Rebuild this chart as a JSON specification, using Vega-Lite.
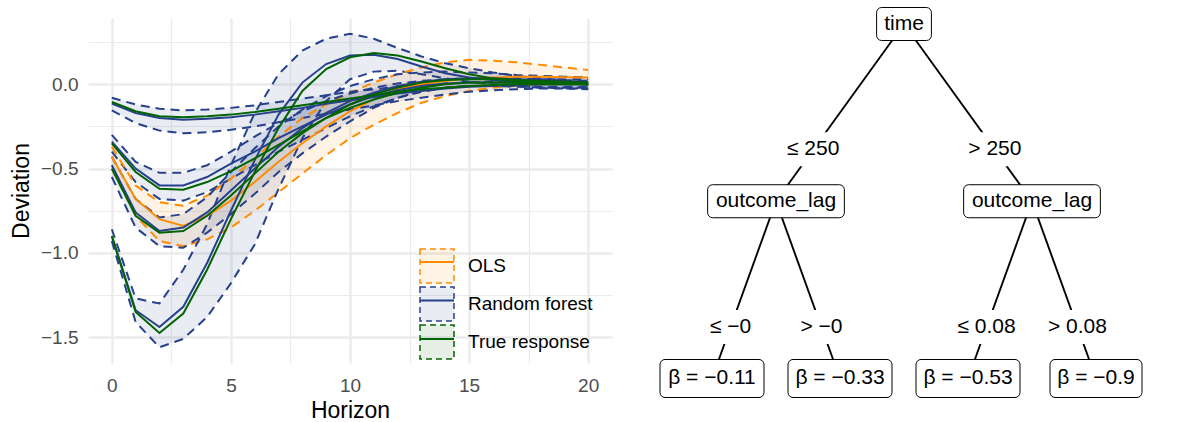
{
"$schema": "https://vega.github.io/schema/vega-lite/v6.json",
"padding": {"left": 10, "top": 6, "right": 0, "bottom": 0},
"background": "white",
"bounds": "flush",
"spacing": 8,
"config": {
  "view": {"stroke": null},
  "font": "Liberation Sans",
  "axis": {"labelFont": "Liberation Sans", "titleFont": "Liberation Sans"},
  "legend": {"labelFont": "Liberation Sans"},
  "text": {"font": "Liberation Sans"}
},
"datasets": {
"irf": [
{"h":0,"g":"O","m":"OLS","y":-0.43,"lo":-0.50,"hi":-0.37},
{"h":1,"g":"O","m":"OLS","y":-0.68,"lo":-0.78,"hi":-0.60},
{"h":2,"g":"O","m":"OLS","y":-0.80,"lo":-0.93,"hi":-0.70},
{"h":3,"g":"O","m":"OLS","y":-0.84,"lo":-0.96,"hi":-0.72},
{"h":4,"g":"O","m":"OLS","y":-0.78,"lo":-0.92,"hi":-0.66},
{"h":5,"g":"O","m":"OLS","y":-0.69,"lo":-0.85,"hi":-0.56},
{"h":6,"g":"O","m":"OLS","y":-0.58,"lo":-0.75,"hi":-0.44},
{"h":7,"g":"O","m":"OLS","y":-0.46,"lo":-0.64,"hi":-0.31},
{"h":8,"g":"O","m":"OLS","y":-0.35,"lo":-0.53,"hi":-0.20},
{"h":9,"g":"O","m":"OLS","y":-0.25,"lo":-0.42,"hi":-0.12},
{"h":10,"g":"O","m":"OLS","y":-0.16,"lo":-0.32,"hi":-0.05},
{"h":11,"g":"O","m":"OLS","y":-0.09,"lo":-0.24,"hi":0.01},
{"h":12,"g":"O","m":"OLS","y":-0.03,"lo":-0.17,"hi":0.06},
{"h":13,"g":"O","m":"OLS","y":0.00,"lo":-0.11,"hi":0.10},
{"h":14,"g":"O","m":"OLS","y":0.02,"lo":-0.07,"hi":0.13},
{"h":15,"g":"O","m":"OLS","y":0.035,"lo":-0.04,"hi":0.145},
{"h":16,"g":"O","m":"OLS","y":0.04,"lo":-0.02,"hi":0.14},
{"h":17,"g":"O","m":"OLS","y":0.045,"lo":-0.01,"hi":0.13},
{"h":18,"g":"O","m":"OLS","y":0.045,"lo":0.0,"hi":0.115},
{"h":19,"g":"O","m":"OLS","y":0.042,"lo":0.0,"hi":0.10},
{"h":20,"g":"O","m":"OLS","y":0.04,"lo":0.0,"hi":0.085},

{"h":0,"g":"A","m":"Random forest","y":-0.115,"lo":-0.155,"hi":-0.08},
{"h":1,"g":"A","m":"Random forest","y":-0.17,"lo":-0.23,"hi":-0.12},
{"h":2,"g":"A","m":"Random forest","y":-0.20,"lo":-0.275,"hi":-0.145},
{"h":3,"g":"A","m":"Random forest","y":-0.21,"lo":-0.29,"hi":-0.155},
{"h":4,"g":"A","m":"Random forest","y":-0.205,"lo":-0.285,"hi":-0.15},
{"h":5,"g":"A","m":"Random forest","y":-0.195,"lo":-0.27,"hi":-0.14},
{"h":6,"g":"A","m":"Random forest","y":-0.18,"lo":-0.25,"hi":-0.125},
{"h":7,"g":"A","m":"Random forest","y":-0.16,"lo":-0.225,"hi":-0.105},
{"h":8,"g":"A","m":"Random forest","y":-0.14,"lo":-0.20,"hi":-0.085},
{"h":9,"g":"A","m":"Random forest","y":-0.115,"lo":-0.175,"hi":-0.065},
{"h":10,"g":"A","m":"Random forest","y":-0.095,"lo":-0.15,"hi":-0.045},
{"h":11,"g":"A","m":"Random forest","y":-0.075,"lo":-0.125,"hi":-0.03},
{"h":12,"g":"A","m":"Random forest","y":-0.055,"lo":-0.10,"hi":-0.015},
{"h":13,"g":"A","m":"Random forest","y":-0.04,"lo":-0.08,"hi":-0.005},
{"h":14,"g":"A","m":"Random forest","y":-0.025,"lo":-0.06,"hi":0.005},
{"h":15,"g":"A","m":"Random forest","y":-0.015,"lo":-0.045,"hi":0.01},
{"h":16,"g":"A","m":"Random forest","y":-0.01,"lo":-0.035,"hi":0.015},
{"h":17,"g":"A","m":"Random forest","y":-0.005,"lo":-0.03,"hi":0.015},
{"h":18,"g":"A","m":"Random forest","y":0.0,"lo":-0.025,"hi":0.015},
{"h":19,"g":"A","m":"Random forest","y":0.0,"lo":-0.025,"hi":0.015},
{"h":20,"g":"A","m":"Random forest","y":0.0,"lo":-0.025,"hi":0.015},

{"h":0,"g":"B","m":"Random forest","y":-0.34,"lo":-0.40,"hi":-0.30},
{"h":1,"g":"B","m":"Random forest","y":-0.50,"lo":-0.58,"hi":-0.46},
{"h":2,"g":"B","m":"Random forest","y":-0.60,"lo":-0.68,"hi":-0.525},
{"h":3,"g":"B","m":"Random forest","y":-0.60,"lo":-0.69,"hi":-0.525},
{"h":4,"g":"B","m":"Random forest","y":-0.55,"lo":-0.64,"hi":-0.48},
{"h":5,"g":"B","m":"Random forest","y":-0.47,"lo":-0.56,"hi":-0.40},
{"h":6,"g":"B","m":"Random forest","y":-0.40,"lo":-0.48,"hi":-0.31},
{"h":7,"g":"B","m":"Random forest","y":-0.32,"lo":-0.40,"hi":-0.23},
{"h":8,"g":"B","m":"Random forest","y":-0.25,"lo":-0.33,"hi":-0.16},
{"h":9,"g":"B","m":"Random forest","y":-0.18,"lo":-0.26,"hi":-0.10},
{"h":10,"g":"B","m":"Random forest","y":-0.12,"lo":-0.19,"hi":-0.055},
{"h":11,"g":"B","m":"Random forest","y":-0.07,"lo":-0.13,"hi":-0.02},
{"h":12,"g":"B","m":"Random forest","y":-0.035,"lo":-0.08,"hi":0.005},
{"h":13,"g":"B","m":"Random forest","y":-0.01,"lo":-0.045,"hi":0.02},
{"h":14,"g":"B","m":"Random forest","y":0.005,"lo":-0.02,"hi":0.03},
{"h":15,"g":"B","m":"Random forest","y":0.01,"lo":-0.01,"hi":0.035},
{"h":16,"g":"B","m":"Random forest","y":0.01,"lo":-0.01,"hi":0.035},
{"h":17,"g":"B","m":"Random forest","y":0.01,"lo":-0.015,"hi":0.035},
{"h":18,"g":"B","m":"Random forest","y":0.005,"lo":-0.02,"hi":0.03},
{"h":19,"g":"B","m":"Random forest","y":0.005,"lo":-0.02,"hi":0.03},
{"h":20,"g":"B","m":"Random forest","y":0.0,"lo":-0.02,"hi":0.03},

{"h":0,"g":"C","m":"Random forest","y":-0.48,"lo":-0.55,"hi":-0.43},
{"h":1,"g":"C","m":"Random forest","y":-0.76,"lo":-0.85,"hi":-0.68},
{"h":2,"g":"C","m":"Random forest","y":-0.87,"lo":-0.96,"hi":-0.79},
{"h":3,"g":"C","m":"Random forest","y":-0.85,"lo":-0.97,"hi":-0.77},
{"h":4,"g":"C","m":"Random forest","y":-0.76,"lo":-0.88,"hi":-0.67},
{"h":5,"g":"C","m":"Random forest","y":-0.63,"lo":-0.77,"hi":-0.52},
{"h":6,"g":"C","m":"Random forest","y":-0.50,"lo":-0.65,"hi":-0.38},
{"h":7,"g":"C","m":"Random forest","y":-0.37,"lo":-0.52,"hi":-0.25},
{"h":8,"g":"C","m":"Random forest","y":-0.26,"lo":-0.41,"hi":-0.15},
{"h":9,"g":"C","m":"Random forest","y":-0.17,"lo":-0.31,"hi":-0.07},
{"h":10,"g":"C","m":"Random forest","y":-0.10,"lo":-0.22,"hi":-0.01},
{"h":11,"g":"C","m":"Random forest","y":-0.05,"lo":-0.14,"hi":0.03},
{"h":12,"g":"C","m":"Random forest","y":-0.01,"lo":-0.08,"hi":0.06},
{"h":13,"g":"C","m":"Random forest","y":0.015,"lo":-0.04,"hi":0.07},
{"h":14,"g":"C","m":"Random forest","y":0.03,"lo":-0.02,"hi":0.075},
{"h":15,"g":"C","m":"Random forest","y":0.035,"lo":-0.01,"hi":0.07},
{"h":16,"g":"C","m":"Random forest","y":0.035,"lo":-0.01,"hi":0.065},
{"h":17,"g":"C","m":"Random forest","y":0.03,"lo":-0.01,"hi":0.055},
{"h":18,"g":"C","m":"Random forest","y":0.025,"lo":-0.015,"hi":0.05},
{"h":19,"g":"C","m":"Random forest","y":0.02,"lo":-0.015,"hi":0.045},
{"h":20,"g":"C","m":"Random forest","y":0.015,"lo":-0.015,"hi":0.04},

{"h":0,"g":"D","m":"Random forest","y":-0.90,"lo":-0.93,"hi":-0.86},
{"h":1,"g":"D","m":"Random forest","y":-1.34,"lo":-1.41,"hi":-1.27},
{"h":2,"g":"D","m":"Random forest","y":-1.44,"lo":-1.56,"hi":-1.30},
{"h":3,"g":"D","m":"Random forest","y":-1.32,"lo":-1.51,"hi":-1.10},
{"h":4,"g":"D","m":"Random forest","y":-1.06,"lo":-1.38,"hi":-0.83},
{"h":5,"g":"D","m":"Random forest","y":-0.75,"lo":-1.18,"hi":-0.48},
{"h":6,"g":"D","m":"Random forest","y":-0.45,"lo":-0.95,"hi":-0.17},
{"h":7,"g":"D","m":"Random forest","y":-0.18,"lo":-0.62,"hi":0.06},
{"h":8,"g":"D","m":"Random forest","y":0.01,"lo":-0.32,"hi":0.20},
{"h":9,"g":"D","m":"Random forest","y":0.12,"lo":-0.10,"hi":0.27},
{"h":10,"g":"D","m":"Random forest","y":0.17,"lo":0.03,"hi":0.30},
{"h":11,"g":"D","m":"Random forest","y":0.175,"lo":0.075,"hi":0.27},
{"h":12,"g":"D","m":"Random forest","y":0.15,"lo":0.08,"hi":0.215},
{"h":13,"g":"D","m":"Random forest","y":0.105,"lo":0.06,"hi":0.165},
{"h":14,"g":"D","m":"Random forest","y":0.065,"lo":0.035,"hi":0.125},
{"h":15,"g":"D","m":"Random forest","y":0.04,"lo":0.015,"hi":0.095},
{"h":16,"g":"D","m":"Random forest","y":0.025,"lo":0.0,"hi":0.07},
{"h":17,"g":"D","m":"Random forest","y":0.015,"lo":-0.01,"hi":0.05},
{"h":18,"g":"D","m":"Random forest","y":0.01,"lo":-0.02,"hi":0.035},
{"h":19,"g":"D","m":"Random forest","y":0.005,"lo":-0.025,"hi":0.025},
{"h":20,"g":"D","m":"Random forest","y":0.0,"lo":-0.03,"hi":0.02},

{"h":0,"g":"A","m":"True response","y":-0.105},
{"h":1,"g":"A","m":"True response","y":-0.16},
{"h":2,"g":"A","m":"True response","y":-0.19},
{"h":3,"g":"A","m":"True response","y":-0.195},
{"h":4,"g":"A","m":"True response","y":-0.19},
{"h":5,"g":"A","m":"True response","y":-0.18},
{"h":6,"g":"A","m":"True response","y":-0.165},
{"h":7,"g":"A","m":"True response","y":-0.145},
{"h":8,"g":"A","m":"True response","y":-0.125},
{"h":9,"g":"A","m":"True response","y":-0.105},
{"h":10,"g":"A","m":"True response","y":-0.085},
{"h":11,"g":"A","m":"True response","y":-0.065},
{"h":12,"g":"A","m":"True response","y":-0.045},
{"h":13,"g":"A","m":"True response","y":-0.03},
{"h":14,"g":"A","m":"True response","y":-0.02},
{"h":15,"g":"A","m":"True response","y":-0.01},
{"h":16,"g":"A","m":"True response","y":-0.005},
{"h":17,"g":"A","m":"True response","y":0.0},
{"h":18,"g":"A","m":"True response","y":0.0},
{"h":19,"g":"A","m":"True response","y":0.0},
{"h":20,"g":"A","m":"True response","y":0.0},

{"h":0,"g":"B","m":"True response","y":-0.35},
{"h":1,"g":"B","m":"True response","y":-0.52},
{"h":2,"g":"B","m":"True response","y":-0.62},
{"h":3,"g":"B","m":"True response","y":-0.625},
{"h":4,"g":"B","m":"True response","y":-0.58},
{"h":5,"g":"B","m":"True response","y":-0.515},
{"h":6,"g":"B","m":"True response","y":-0.44},
{"h":7,"g":"B","m":"True response","y":-0.36},
{"h":8,"g":"B","m":"True response","y":-0.28},
{"h":9,"g":"B","m":"True response","y":-0.20},
{"h":10,"g":"B","m":"True response","y":-0.14},
{"h":11,"g":"B","m":"True response","y":-0.09},
{"h":12,"g":"B","m":"True response","y":-0.05},
{"h":13,"g":"B","m":"True response","y":-0.02},
{"h":14,"g":"B","m":"True response","y":0.0},
{"h":15,"g":"B","m":"True response","y":0.01},
{"h":16,"g":"B","m":"True response","y":0.01},
{"h":17,"g":"B","m":"True response","y":0.01},
{"h":18,"g":"B","m":"True response","y":0.005},
{"h":19,"g":"B","m":"True response","y":0.005},
{"h":20,"g":"B","m":"True response","y":0.0},

{"h":0,"g":"C","m":"True response","y":-0.50},
{"h":1,"g":"C","m":"True response","y":-0.78},
{"h":2,"g":"C","m":"True response","y":-0.88},
{"h":3,"g":"C","m":"True response","y":-0.87},
{"h":4,"g":"C","m":"True response","y":-0.78},
{"h":5,"g":"C","m":"True response","y":-0.66},
{"h":6,"g":"C","m":"True response","y":-0.53},
{"h":7,"g":"C","m":"True response","y":-0.40},
{"h":8,"g":"C","m":"True response","y":-0.29},
{"h":9,"g":"C","m":"True response","y":-0.20},
{"h":10,"g":"C","m":"True response","y":-0.12},
{"h":11,"g":"C","m":"True response","y":-0.06},
{"h":12,"g":"C","m":"True response","y":-0.02},
{"h":13,"g":"C","m":"True response","y":0.01},
{"h":14,"g":"C","m":"True response","y":0.025},
{"h":15,"g":"C","m":"True response","y":0.03},
{"h":16,"g":"C","m":"True response","y":0.03},
{"h":17,"g":"C","m":"True response","y":0.025},
{"h":18,"g":"C","m":"True response","y":0.02},
{"h":19,"g":"C","m":"True response","y":0.015},
{"h":20,"g":"C","m":"True response","y":0.01},

{"h":0,"g":"D","m":"True response","y":-0.90},
{"h":1,"g":"D","m":"True response","y":-1.35},
{"h":2,"g":"D","m":"True response","y":-1.475},
{"h":3,"g":"D","m":"True response","y":-1.36},
{"h":4,"g":"D","m":"True response","y":-1.10},
{"h":5,"g":"D","m":"True response","y":-0.80},
{"h":6,"g":"D","m":"True response","y":-0.52},
{"h":7,"g":"D","m":"True response","y":-0.26},
{"h":8,"g":"D","m":"True response","y":-0.04},
{"h":9,"g":"D","m":"True response","y":0.09},
{"h":10,"g":"D","m":"True response","y":0.16},
{"h":11,"g":"D","m":"True response","y":0.185},
{"h":12,"g":"D","m":"True response","y":0.17},
{"h":13,"g":"D","m":"True response","y":0.135},
{"h":14,"g":"D","m":"True response","y":0.095},
{"h":15,"g":"D","m":"True response","y":0.06},
{"h":16,"g":"D","m":"True response","y":0.035},
{"h":17,"g":"D","m":"True response","y":0.02},
{"h":18,"g":"D","m":"True response","y":0.01},
{"h":19,"g":"D","m":"True response","y":0.005},
{"h":20,"g":"D","m":"True response","y":0.0}
],
"nodes": [
{"u":2.5,"d":0,"label":"time"},
{"u":1.5,"d":1,"label":"outcome_lag"},
{"u":3.5,"d":1,"label":"outcome_lag"},
{"u":1,"d":2,"label":"β = −0.11"},
{"u":2,"d":2,"label":"β = −0.33"},
{"u":3,"d":2,"label":"β = −0.53"},
{"u":4,"d":2,"label":"β = −0.9"}
],
"edges": [
{"u":2.5,"d":0,"u2":1.5,"d2":1,"lu":1.79,"ld":0.706,"label":"≤ 250"},
{"u":2.5,"d":0,"u2":3.5,"d2":1,"lu":3.21,"ld":0.706,"label":"> 250"},
{"u":1.5,"d":1,"u2":1,"d2":2,"lu":1.145,"ld":1.71,"label":"≤ −0"},
{"u":1.5,"d":1,"u2":2,"d2":2,"lu":1.855,"ld":1.71,"label":"> −0"},
{"u":3.5,"d":1,"u2":3,"d2":2,"lu":3.145,"ld":1.71,"label":"≤ 0.08"},
{"u":3.5,"d":1,"u2":4,"d2":2,"lu":3.855,"ld":1.71,"label":"> 0.08"}
]
},
"hconcat": [
{
  "width": 524,
  "height": 345,
  "data": {"name": "irf"},
  "layer": [
    {
      "transform": [{"filter": "datum.lo != null"}],
      "mark": {"type": "area", "fillOpacity": 0.1, "strokeWidth": 0},
      "encoding": {
        "x": {"field": "h", "type": "quantitative", "title": "Horizon",
          "scale": {"domain": [-1, 21], "nice": false, "zero": false},
          "axis": {"values": [0, 2.5, 5, 7.5, 10, 12.5, 15, 17.5, 20], "format": ".0f",
            "labelExpr": "datum.value % 5 === 0 ? datum.label : ''",
            "ticks": false, "domain": false, "grid": true, "gridColor": "#EBEBEB",
            "gridWidth": {"condition": {"test": "datum.value % 5 === 0", "value": 2.4}, "value": 1.2},
            "labelFontSize": 19, "labelColor": "#4D4D4D", "labelPadding": 13,
            "titleFontSize": 23, "titleColor": "black", "titleFontWeight": "normal", "titlePadding": 4}},
        "y": {"field": "lo", "type": "quantitative", "title": "Deviation", "stack": null,
          "scale": {"domain": [-1.653, 0.393], "nice": false, "zero": false},
          "axis": {"values": [-1.5, -1.25, -1, -0.75, -0.5, -0.25, 0, 0.25], "format": ".1f",
            "labelExpr": "abs(datum.value * 2 - round(datum.value * 2)) < 0.001 ? datum.label : ''",
            "ticks": false, "domain": false, "grid": true, "gridColor": "#EBEBEB",
            "gridWidth": {"condition": {"test": "abs(datum.value * 2 - round(datum.value * 2)) < 0.001", "value": 2.4}, "value": 1.2},
            "labelFontSize": 19, "labelColor": "#4D4D4D", "labelPadding": 10,
            "titleFontSize": 23, "titleColor": "black", "titleFontWeight": "normal", "titlePadding": 7}},
        "y2": {"field": "hi"},
        "fill": {"field": "m", "type": "nominal",
          "scale": {"domain": ["OLS", "Random forest", "True response"], "range": ["#FF8C00", "#27408B", "#006400"]},
          "legend": {"orient": "none", "legendX": 331, "legendY": 230, "title": null,
            "symbolType": "square", "symbolSize": 1156, "symbolStrokeWidth": 1.5, "symbolDash": [6, 4],
            "labelFontSize": 19, "labelColor": "black", "labelOffset": 13, "rowPadding": -4.5, "padding": 0,
            "encode": {"symbols": {"update": {
              "fillOpacity": {"value": 0.1},
              "strokeOpacity": {"value": 1},
              "stroke": {"signal": "datum.value === 'OLS' ? '#FF8C00' : datum.value === 'Random forest' ? '#27408B' : '#006400'"}
            }}}}},
        "detail": {"field": "g"}
      }
    },
    {
      "transform": [{"filter": "datum.lo != null"}],
      "mark": {"type": "line", "strokeWidth": 2, "strokeDash": [9, 6]},
      "encoding": {
        "x": {"field": "h", "type": "quantitative", "title": "Horizon"},
        "y": {"field": "lo", "type": "quantitative", "title": "Deviation"},
        "stroke": {"field": "m", "type": "nominal", "scale": {"domain": ["OLS", "Random forest"], "range": ["#FF8C00", "#27408B"]}, "legend": null},
        "detail": {"field": "g"}
      }
    },
    {
      "transform": [{"filter": "datum.hi != null"}],
      "mark": {"type": "line", "strokeWidth": 2, "strokeDash": [9, 6]},
      "encoding": {
        "x": {"field": "h", "type": "quantitative", "title": "Horizon"},
        "y": {"field": "hi", "type": "quantitative", "title": "Deviation"},
        "stroke": {"field": "m", "type": "nominal", "scale": {"domain": ["OLS", "Random forest"], "range": ["#FF8C00", "#27408B"]}, "legend": null},
        "detail": {"field": "g"}
      }
    },
    {
      "mark": {"type": "line", "strokeWidth": 2},
      "encoding": {
        "x": {"field": "h", "type": "quantitative", "title": "Horizon"},
        "y": {"field": "y", "type": "quantitative", "title": "Deviation"},
        "color": {"field": "m", "type": "nominal",
          "scale": {"range": ["#FF8C00", "#27408B", "#006400"]},
          "legend": {"orient": "none", "legendX": 331, "legendY": 226, "title": null,
            "symbolType": "stroke", "symbolSize": 1156, "symbolStrokeWidth": 2,
            "labelFontSize": 19, "labelExpr": "''", "labelOffset": 13, "rowPadding": 10.5, "padding": 0}},
        "detail": {"field": "g"}
      }
    }
  ]
},
{
  "width": 576,
  "height": 400,
  "layer": [
    {
      "data": {"name": "edges"},
      "mark": {"type": "rule", "strokeWidth": 1.9, "color": "black"},
      "encoding": {
        "x": {"field": "u", "type": "quantitative", "scale": {"domain": [0.28125, 4.78125], "nice": false, "zero": false}, "axis": null},
        "y": {"field": "d", "type": "quantitative", "scale": {"domain": [-0.03385, 2.22285], "reverse": true, "nice": false, "zero": false}, "axis": null},
        "x2": {"field": "u2"},
        "y2": {"field": "d2"}
      }
    },
    {
      "data": {"name": "edges"},
      "mark": {"type": "rect", "fill": "white", "xOffset": -20, "x2Offset": 20, "yOffset": -17, "y2Offset": 17},
      "encoding": {
        "x": {"field": "lu", "type": "quantitative"},
        "x2": {"field": "lu"},
        "y": {"field": "ld", "type": "quantitative"},
        "y2": {"field": "ld"}
      }
    },
    {
      "data": {"name": "edges"},
      "mark": {"type": "text", "fontSize": 21, "color": "black", "align": "center", "baseline": "middle"},
      "encoding": {
        "x": {"field": "lu", "type": "quantitative"},
        "y": {"field": "ld", "type": "quantitative"},
        "text": {"field": "label"}
      }
    },
    {
      "data": {"name": "nodes"},
      "mark": {"type": "rect", "fill": "white", "stroke": "black", "strokeWidth": 1, "cornerRadius": 5,
        "xOffset": {"expr": "-(indexof(datum.label, 'β') >= 0 ? length(datum.label) * 6 - 2 : length(datum.label) * 5.85 + 4)"},
        "x2Offset": {"expr": "(indexof(datum.label, 'β') >= 0 ? length(datum.label) * 6 - 2 : length(datum.label) * 5.85 + 4)"},
        "yOffset": {"expr": "-(indexof(datum.label, 'β') >= 0 ? 19 : 16.5)"},
        "y2Offset": {"expr": "(indexof(datum.label, 'β') >= 0 ? 19 : 16.5)"}},
      "encoding": {
        "x": {"field": "u", "type": "quantitative"},
        "x2": {"field": "u"},
        "y": {"field": "d", "type": "quantitative"},
        "y2": {"field": "d"}
      }
    },
    {
      "data": {"name": "nodes"},
      "mark": {"type": "text", "fontSize": 21, "color": "black", "align": "center", "baseline": "middle"},
      "encoding": {
        "x": {"field": "u", "type": "quantitative"},
        "y": {"field": "d", "type": "quantitative"},
        "text": {"field": "label"}
      }
    }
  ]
}
]
}
